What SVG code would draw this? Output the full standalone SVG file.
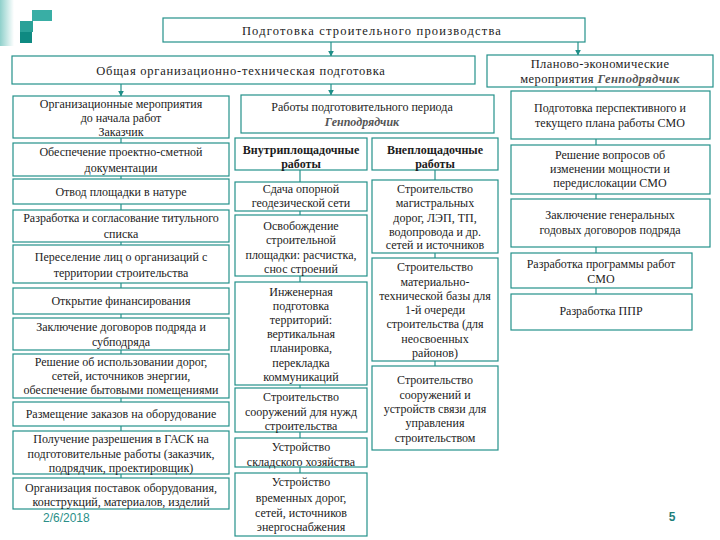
<svg xmlns="http://www.w3.org/2000/svg" width="720" height="540" viewBox="0 0 720 540">
<defs>
<linearGradient id="lg" x1="0" y1="0" x2="1" y2="0">
<stop offset="0" stop-color="#8fd0cb"/>
<stop offset="1" stop-color="#ffffff"/>
</linearGradient>
<marker id="ah" viewBox="0 0 10 10" refX="9" refY="5" markerWidth="6" markerHeight="6" markerUnits="userSpaceOnUse" orient="auto">
<path d="M0,0 L10,5 L0,10 z" fill="#1f8f88"/>
</marker>
<style>
.box{fill:#ffffff;stroke:#23918a;stroke-width:1.2}
.t{font-family:"Liberation Serif","Times New Roman",serif;font-size:12px;fill:#1c1c1c;text-anchor:middle}
.h{font-size:12.5px;letter-spacing:0.4px}
.b{font-weight:bold}
.g{fill:#555555;font-style:italic;font-weight:bold}
.conn line{stroke:#23918a;stroke-width:1.2}
.ar{marker-end:url(#ah)}
</style>
</defs>
<g id="logo">
<rect x="0" y="0" width="14" height="46" fill="url(#lg)"/>
<rect x="32" y="10" width="20" height="11" fill="#39aea5"/>
<rect x="20" y="21" width="13" height="11" fill="#2aa198"/>
<rect x="20" y="32" width="12" height="11" fill="#0f8a82"/>
</g>
<g class="conn">
<line class="ar" x1="331" y1="42" x2="331" y2="56"/>
<line class="ar" x1="578" y1="42" x2="578" y2="55"/>
<line class="ar" x1="121" y1="84" x2="121" y2="96"/>
<line class="ar" x1="331" y1="84" x2="331" y2="95"/>
<line x1="121" y1="138" x2="121" y2="143"/>
<line x1="121" y1="176" x2="121" y2="179"/>
<line x1="121" y1="204" x2="121" y2="210"/>
<line x1="121" y1="242" x2="121" y2="245"/>
<line x1="121" y1="283" x2="121" y2="288"/>
<line x1="121" y1="314" x2="121" y2="318"/>
<line x1="121" y1="350" x2="121" y2="354"/>
<line x1="121" y1="398" x2="121" y2="402"/>
<line x1="121" y1="426" x2="121" y2="431"/>
<line x1="121" y1="474" x2="121" y2="478"/>
<line x1="300" y1="170" x2="300" y2="182"/>
<line x1="300" y1="211" x2="300" y2="215"/>
<line x1="300" y1="276" x2="300" y2="282"/>
<line x1="300" y1="385" x2="300" y2="388"/>
<line x1="300" y1="432" x2="300" y2="438"/>
<line x1="300" y1="467" x2="300" y2="473"/>
<line x1="435" y1="170" x2="435" y2="180"/>
<line x1="435" y1="253" x2="435" y2="258"/>
<line x1="435" y1="361" x2="435" y2="366"/>
<line x1="596" y1="87" x2="596" y2="91"/>
<line x1="596" y1="139" x2="596" y2="145"/>
<line x1="596" y1="194" x2="596" y2="199"/>
<line x1="596" y1="247" x2="596" y2="253"/>
<line x1="596" y1="288" x2="596" y2="294"/>
</g>
<g id="top"><rect class="box" x="163" y="18" width="422" height="24"/><text class="t h" x="372" y="35" style="letter-spacing:1.2px">Подготовка строительного производства</text></g>
<g id="general"><rect class="box" x="12" y="56" width="463" height="28"/><text class="t h" x="241" y="75" style="letter-spacing:0.75px">Общая организационно-техническая подготовка</text></g>
<g id="plan"><rect class="box" x="487" y="55" width="226" height="32"/><text class="t h" x="600" y="68">Планово-экономические</text><text class="t h" x="600" y="83">мероприятия <tspan class="g" fill="#444">Генподрядчик</tspan></text></g>

<g id="l1"><rect class="box" x="13" y="96" width="216" height="42"/><text class="t" x="121" y="108">Организационные мероприятия</text><text class="t" x="121" y="122">до начала работ</text><text class="t" x="121" y="136" fill="#666">Заказчик</text></g>
<g id="l2"><rect class="box" x="13" y="143" width="216" height="33"/><text class="t" x="121" y="156">Обеспечение проектно-сметной</text><text class="t" x="121" y="172">документации</text></g>
<g id="l3"><rect class="box" x="13" y="179" width="216" height="25"/><text class="t" x="121" y="196">Отвод площадки в натуре</text></g>
<g id="l4"><rect class="box" x="13" y="210" width="216" height="32"/><text class="t" x="121" y="222">Разработка и согласование титульного</text><text class="t" x="121" y="238">списка</text></g>
<g id="l5"><rect class="box" x="13" y="245" width="216" height="38"/><text class="t" x="121" y="261">Переселение лиц о организаций с</text><text class="t" x="121" y="277">территории строительства</text></g>
<g id="l6"><rect class="box" x="13" y="288" width="216" height="26"/><text class="t" x="121" y="305">Открытие финансирования</text></g>
<g id="l7"><rect class="box" x="13" y="318" width="216" height="32"/><text class="t" x="121" y="331">Заключение договоров подряда и</text><text class="t" x="121" y="346">субподряда</text></g>
<g id="l8"><rect class="box" x="13" y="354" width="216" height="44"/><text class="t" x="121" y="366">Решение об использовании дорог,</text><text class="t" x="121" y="380">сетей, источников энергии,</text><text class="t" x="121" y="394">обеспечение бытовыми помещениями</text></g>
<g id="l9"><rect class="box" x="13" y="402" width="216" height="24"/><text class="t" x="121" y="418">Размещение заказов на оборудование</text></g>
<g id="l10"><rect class="box" x="13" y="431" width="216" height="43"/><text class="t" x="121" y="443">Получение разрешения в ГАСК на</text><text class="t" x="121" y="458">подготовительные работы (заказчик,</text><text class="t" x="121" y="472">подрядчик, проектировщик)</text></g>
<g id="l11"><rect class="box" x="13" y="478" width="216" height="31"/><text class="t" x="121" y="492">Организация поставок оборудования,</text><text class="t" x="121" y="506">конструкций, материалов, изделий</text></g>

<g id="m0"><rect class="box" x="241" y="95" width="253" height="38"/><text class="t" x="362" y="111">Работы подготовительного периода</text><text class="t g" x="362" y="126">Генподрядчик</text></g>
<g id="mi0"><rect class="box" x="235" y="138" width="132" height="32"/><text class="t b" x="301" y="154">Внутриплощадочные</text><text class="t b" x="301" y="168">работы</text></g>
<g id="mi1"><rect class="box" x="235" y="182" width="132" height="29"/><text class="t" x="301" y="193">Сдача опорной</text><text class="t" x="301" y="207">геодезической сети</text></g>
<g id="mi2"><rect class="box" x="235" y="215" width="132" height="61"/><text class="t" x="301" y="230">Освобождение</text><text class="t" x="301" y="244">строительной</text><text class="t" x="301" y="259">площадки: расчистка,</text><text class="t" x="301" y="273">снос строений</text></g>
<g id="mi3"><rect class="box" x="235" y="282" width="132" height="103"/><text class="t" x="301" y="296">Инженерная</text><text class="t" x="301" y="310">подготовка</text><text class="t" x="301" y="324">территорий:</text><text class="t" x="301" y="338">вертикальная</text><text class="t" x="301" y="352">планировка,</text><text class="t" x="301" y="367">перекладка</text><text class="t" x="301" y="381">коммуникаций</text></g>
<g id="mi4"><rect class="box" x="235" y="388" width="132" height="44"/><text class="t" x="301" y="401">Строительство</text><text class="t" x="301" y="416">сооружений для нужд</text><text class="t" x="301" y="430">строительства</text></g>
<g id="mi5"><rect class="box" x="235" y="438" width="132" height="29"/><text class="t" x="301" y="451">Устройство</text><text class="t" x="301" y="466">складского хозяйства</text></g>
<g id="mi6"><rect class="box" x="235" y="473" width="132" height="63"/><text class="t" x="301" y="486">Устройство</text><text class="t" x="301" y="502">временных дорог,</text><text class="t" x="301" y="517">сетей, источников</text><text class="t" x="301" y="531">энергоснабжения</text></g>

<g id="me0"><rect class="box" x="372" y="138" width="126" height="32"/><text class="t b" x="435" y="154">Внеплощадочные</text><text class="t b" x="435" y="168">работы</text></g>
<g id="me1"><rect class="box" x="372" y="180" width="126" height="73"/><text class="t" x="435" y="193">Строительство</text><text class="t" x="435" y="207">магистральных</text><text class="t" x="435" y="222">дорог, ЛЭП, ТП,</text><text class="t" x="435" y="236">водопровода и др.</text><text class="t" x="435" y="249">сетей и источников</text></g>
<g id="me2"><rect class="box" x="372" y="258" width="126" height="103"/><text class="t" x="435" y="271">Строительство</text><text class="t" x="435" y="286">материально-</text><text class="t" x="435" y="300">технической базы для</text><text class="t" x="435" y="314">1-й очереди</text><text class="t" x="435" y="328">строительства (для</text><text class="t" x="435" y="343">неосвоенных</text><text class="t" x="435" y="357">районов)</text></g>
<g id="me3"><rect class="box" x="372" y="366" width="126" height="84"/><text class="t" x="435" y="384">Строительство</text><text class="t" x="435" y="399">сооружений и</text><text class="t" x="435" y="413">устройств связи для</text><text class="t" x="435" y="427">управления</text><text class="t" x="435" y="442">строительством</text></g>

<g id="r1"><rect class="box" x="511" y="91" width="199" height="48"/><text class="t" x="610" y="112">Подготовка перспективного и</text><text class="t" x="610" y="127">текущего плана работы СМО</text></g>
<g id="r2"><rect class="box" x="511" y="145" width="199" height="49"/><text class="t" x="610" y="159">Решение вопросов об</text><text class="t" x="610" y="173">изменении мощности и</text><text class="t" x="610" y="187">передислокации СМО</text></g>
<g id="r3"><rect class="box" x="511" y="199" width="199" height="48"/><text class="t" x="610" y="219">Заключение генеральных</text><text class="t" x="610" y="234">годовых договоров подряда</text></g>
<g id="r4"><rect class="box" x="511" y="253" width="181" height="35"/><text class="t" x="601" y="268">Разработка программы работ</text><text class="t" x="601" y="283">СМО</text></g>
<g id="r5"><rect class="box" x="511" y="294" width="181" height="36"/><text class="t" x="601" y="315">Разработка ППР</text></g>

<text x="43" y="522" font-family="Liberation Sans, Arial, sans-serif" font-size="12" fill="#2b8f89">2/6/2018</text>
<text x="672" y="521" font-family="Liberation Sans, Arial, sans-serif" font-size="12" font-weight="bold" fill="#1f7f7a" text-anchor="middle">5</text>
</svg>
